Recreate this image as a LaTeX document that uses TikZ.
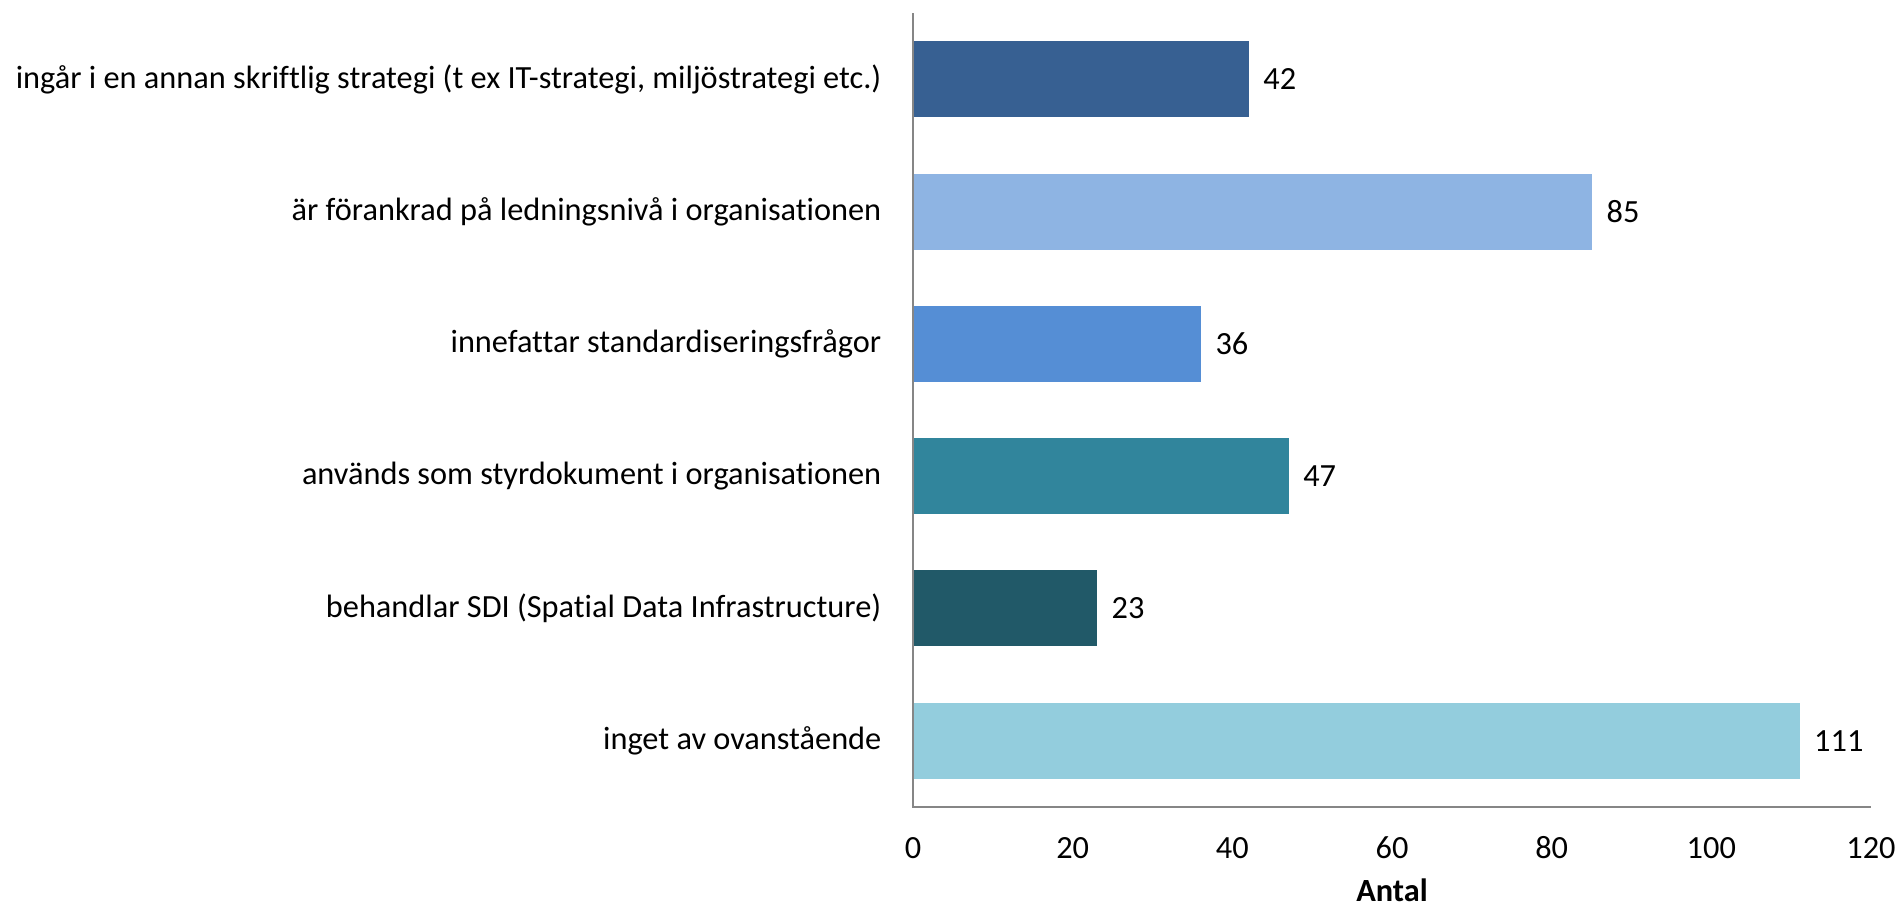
\documentclass[tikz,border=0pt]{standalone}
\usepackage{fontspec}
\setmainfont{Carlito}[Ligatures=NoCommon,RawFeature={-liga;-clig;-calt;-dlig}]
\usepackage{tikz}
\usetikzlibrary{positioning}

\definecolor{barone}{HTML}{376092}
\definecolor{bartwo}{HTML}{8EB4E3}
\definecolor{barthree}{HTML}{558ED5}
\definecolor{barfour}{HTML}{31859C}
\definecolor{barfive}{HTML}{215968}
\definecolor{barsix}{HTML}{93CDDD}
\definecolor{axisgray}{HTML}{868686}

\begin{document}
\begin{tikzpicture}[x=0.1mm, y=-0.1mm, font=\fontsize{9.2}{11}\selectfont]
\tikzstyle{bar}=[draw=none,minimum height=7.6mm,inner sep=0,anchor=west]
\tikzstyle{cat}=[anchor=east,inner sep=0,text=black]
\tikzstyle{val}=[inner sep=0,text=black]
\tikzstyle{tick}=[inner sep=0,text=black]
\useasboundingbox (0,0) rectangle (1897,907);

\coordinate (o)    at (913,807);
\coordinate (ytop) at (913,13);
\coordinate (xend) at (1871,807);

% bars
\node[bar,fill=barone,  minimum width={42*0.7983mm}]  (b1) at (913,79.2)  {};
\node[bar,fill=bartwo,  minimum width={85*0.7983mm}]  (b2) at (913,211.5) {};
\node[bar,fill=barthree,minimum width={36*0.7983mm}]  (b3) at (913,343.8) {};
\node[bar,fill=barfour, minimum width={47*0.7983mm}]  (b4) at (913,476.1) {};
\node[bar,fill=barfive, minimum width={23*0.7983mm}]  (b5) at (913,608.4) {};
\node[bar,fill=barsix,  minimum width={111*0.7983mm}] (b6) at (913,740.7) {};

% values
\node[val] (v1)[right=1.3mm of b1] {42};
\node[val] (v2)[right=1.3mm of b2] {85};
\node[val] (v3)[right=1.3mm of b3] {36};
\node[val] (v4)[right=1.3mm of b4] {47};
\node[val] (v5)[right=1.3mm of b5] {23};
\node[val] (v6)[right=1.3mm of b6] {111};

% categories
\node[cat] (c1) at (882,79.2)  {ingår i en annan skriftlig strategi (t ex IT-strategi, miljöstrategi etc.)};
\node[cat] (c2) at (882,211.5) {är förankrad på ledningsnivå i organisationen};
\node[cat] (c3) at (882,343.8) {innefattar standardiseringsfrågor};
\node[cat] (c4) at (882,476.1) {används som styrdokument i organisationen};
\node[cat] (c5) at (882,608.4) {behandlar SDI (Spatial Data Infrastructure)};
\node[cat] (c6) at (882,740.7) {inget av ovanstående};

% axes
\draw[axisgray,line width=0.24mm] (ytop) -- (o) -- (xend);

\node[tick] (t0)   at (913,848)    {0};
\node[tick] (t20)  at (1072.7,848) {20};
\node[tick] (t40)  at (1232.3,848) {40};
\node[tick] (t60)  at (1392,848)   {60};
\node[tick] (t80)  at (1551.7,848) {80};
\node[tick] (t100) at (1711.3,848) {100};
\node[tick] (t120) at (1871,848)   {120};
\node[tick] (xlab) at (1392,890)   {\textbf{Antal}};

\end{tikzpicture}
\end{document}
